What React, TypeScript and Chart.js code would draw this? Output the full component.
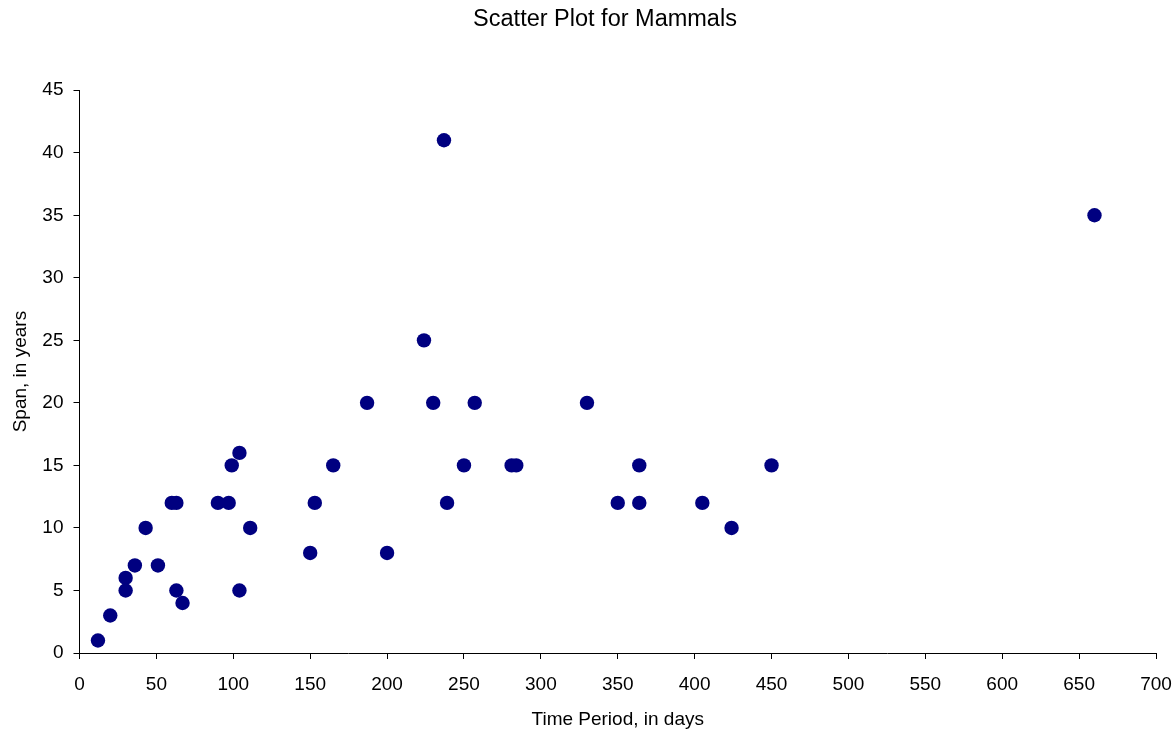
import React, { useEffect, useRef } from "react";
import { Chart, registerables } from "chart.js";

Chart.register(...registerables);

const titleText = "Scatter Plot for Mammals";
const xTitle = "Time Period, in days";
const yTitle = "Span, in years";

const gestationDays = [12, 20, 30, 30, 36, 43, 51, 60, 63, 63, 67, 90, 97, 99, 104, 104, 111, 150, 153, 165, 187, 200, 224, 230, 237, 239, 250, 257, 281, 284, 330, 350, 364, 364, 405, 424, 450, 660];
const spanYears = [1, 3, 5, 6, 7, 10, 7, 12, 12, 5, 4, 12, 12, 15, 16, 5, 10, 8, 12, 15, 20, 8, 25, 20, 41, 12, 15, 20, 15, 15, 20, 12, 15, 12, 12, 10, 15, 35];

const xMin = 0, xMax = 700, xStep = 50;
const yMin = 0, yMax = 45, yStep = 5;

const FONT = "'Liberation Sans', Arial, Helvetica, sans-serif";

const titleShift = {
  id: "titleShift",
  afterLayout(chart: any) {
    const t = chart.titleBlock;
    if (t) t.left = 54;
  },
};

export default function App() {
  const ref = useRef<HTMLCanvasElement | null>(null);
  useEffect(() => {
    if (!ref.current) return;
    const points = gestationDays.map((x, i) => ({ x, y: spanYears[i] }));
    const chart = new Chart(ref.current, {
      type: "scatter",
      data: {
        datasets: [
          {
            data: points,
            backgroundColor: "#000080",
            borderColor: "#000080",
            borderWidth: 0,
            pointRadius: 7.2,
            pointHoverRadius: 7.2,
          },
        ],
      },
      plugins: [titleShift],
      options: {
        animation: false,
        responsive: false,
        layout: { padding: { right: 19, left: 0, top: 0, bottom: 0 } },
        plugins: {
          legend: { display: false },
          tooltip: { enabled: false },
          title: {
            display: true,
            text: titleText,
            color: "#000",
            font: { family: FONT, size: 23.5, weight: "normal" },
            padding: { top: 5, bottom: 57 },
          },
        },
        scales: {
          x: {
            type: "linear",
            min: xMin,
            max: xMax,
            afterFit: (s: any) => {
              s.height = 79;
              s.paddingLeft = 0;
              s.paddingRight = 0;
            },
            ticks: {
              stepSize: xStep,
              autoSkip: false,
              maxRotation: 0,
              color: "#000",
              padding: 14,
              font: { family: FONT, size: 19 },
            },
            grid: { drawOnChartArea: false, drawTicks: true, tickLength: 6, tickColor: "#000", color: "#000" },
            border: { color: "#000", width: 1 },
            title: {
              display: true,
              text: xTitle,
              color: "#000",
              font: { family: FONT, size: 19 },
              padding: { top: 0, bottom: 1 },
            },
          },
          y: {
            type: "linear",
            min: yMin,
            max: yMax,
            afterFit: (s: any) => { s.width = 79.5; },
            ticks: {
              stepSize: yStep,
              color: "#000",
              padding: 10,
              font: { family: FONT, size: 19 },
            },
            grid: { drawOnChartArea: false, drawTicks: true, tickLength: 6, tickColor: "#000", color: "#000" },
            border: { color: "#000", width: 1 },
            title: {
              display: true,
              text: yTitle,
              color: "#000",
              font: { family: FONT, size: 19 },
              padding: { top: 9, bottom: 0 },
            },
          },
        },
      },
    });
    return () => chart.destroy();
  }, []);
  return (
    <div style={{ position: "fixed", left: 0, top: 0, width: 1175, height: 732, background: "#fff" }}>
      <canvas ref={ref} width={1175} height={732} style={{ display: "block", width: 1175, height: 732 }} />
    </div>
  );
}
